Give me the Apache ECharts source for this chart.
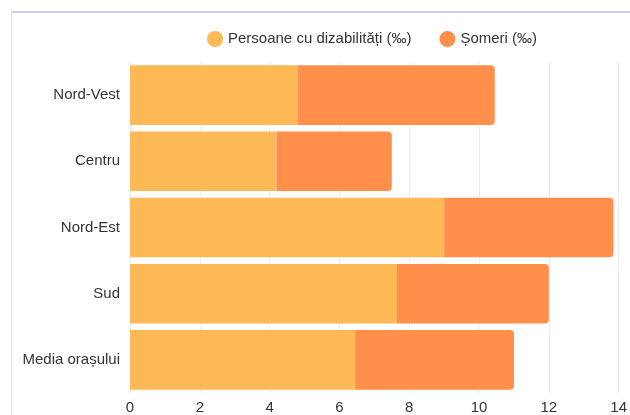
<!DOCTYPE html>
<html>
<head>
<meta charset="utf-8">
<script src="https://cdn.jsdelivr.net/npm/echarts@6/dist/echarts.min.js"></script>
<style>
html,body{margin:0;padding:0;background:#fff;}
#frame{position:absolute;left:11px;top:11px;width:700px;height:500px;border-top:2px solid #d6c8f6;border-left:1px solid #e6ddfa;}
#c{position:absolute;left:0;top:0;width:630px;height:415px;}
</style>
</head>
<body>
<div id="frame"></div>
<div id="c"></div>
<script>
const categories = ['Nord-Vest', 'Centru', 'Nord-Est', 'Sud', 'Media orașului'];
const seriesNames = ['Persoane cu dizabilități (‰)', 'Șomeri (‰)'];
const disabled = [4.8, 4.2, 9.0, 7.65, 6.45];
const unemployed = [5.65, 3.3, 4.85, 4.35, 4.55];
const xTicks = [0, 2, 4, 6, 8, 10, 12, 14];

const chart = echarts.init(document.getElementById('c'));
const font = 'Liberation Sans, Arial, sans-serif';
chart.setOption({
  animation: false,
  textStyle: {fontFamily: font},
  legend: {
    top: 31, left: 207, padding: 0,
    icon: 'circle', itemWidth: 16, itemHeight: 16, itemGap: 28,
    textStyle: {fontSize: 15, color: '#333', fontFamily: font},
    data: seriesNames
  },
  grid: {left: 130, right: 10, top: 62, bottom: 19, containLabel: false},
  xAxis: {
    type: 'value', min: xTicks[0], max: xTicks[xTicks.length - 1], interval: 2,
    axisLine: {show: false}, axisTick: {show: false},
    splitLine: {lineStyle: {color: '#ececec'}},
    axisLabel: {color: '#333', fontSize: 15, margin: 7, fontFamily: font}
  },
  yAxis: {
    type: 'category', data: categories, inverse: true,
    axisLine: {show: false}, axisTick: {show: false},
    axisLabel: {color: '#333', fontSize: 15, margin: 10, fontFamily: font}
  },
  series: [
    {
      name: seriesNames[0], type: 'bar', stack: 's', data: disabled,
      barCategoryGap: '10%',
      itemStyle: {color: '#FDB955'}
    },
    {
      name: seriesNames[1], type: 'bar', stack: 's', data: unemployed,
      barCategoryGap: '10%',
      itemStyle: {color: '#FF8F4B', borderRadius: [0, 4, 4, 0]}
    }
  ]
});
</script>
</body>
</html>
